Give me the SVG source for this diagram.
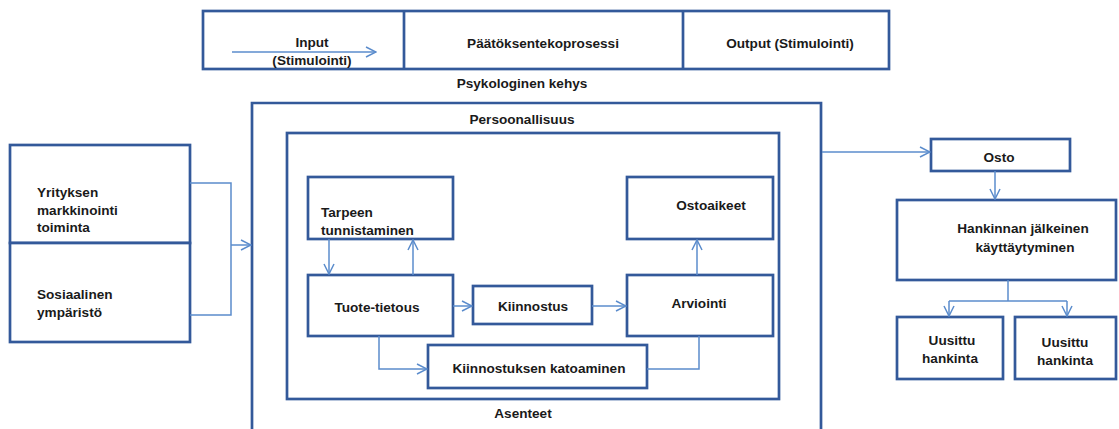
<svg xmlns="http://www.w3.org/2000/svg" width="1119" height="429" viewBox="0 0 1119 429">
<style>
.box{fill:#fff;stroke:#33599a;stroke-width:2.7}
.frame{fill:none;stroke:#33599a;stroke-width:2.7}
.con{fill:none;stroke:#5b8ccc;stroke-width:1.5}
text{font-family:"Liberation Sans",Arial,sans-serif;font-weight:bold;font-size:13.6px;fill:#1a1a1a}
.m{text-anchor:middle}
</style>
<defs>
<marker id="ah" viewBox="0 0 12 12" refX="11" refY="6" markerWidth="12" markerHeight="12" markerUnits="userSpaceOnUse" orient="auto">
<path d="M1,1 L11,6 L1,11" fill="none" stroke="#5b8ccc" stroke-width="1.5"/>
</marker>
</defs>
<rect width="1119" height="429" fill="#fff"/>

<g id="top-frame">
<rect class="box" x="203" y="11" width="686" height="58"/>
<line class="frame" x1="404" y1="11" x2="404" y2="69"/>
<line class="frame" x1="683" y1="11" x2="683" y2="69"/>
<text class="m" x="312" y="47">Input</text>
<text class="m" x="312" y="65">(Stimulointi)</text>
<text class="m" x="543" y="48">Päätöksentekoprosessi</text>
<text class="m" x="790" y="48">Output (Stimulointi)</text>
<text class="m" x="522" y="88">Psykologinen kehys</text>
</g>

<g id="persoonallisuus">
<path class="frame" d="M252,432 L252,103 L821,103 L821,432"/>
<text class="m" x="522" y="124">Persoonallisuus</text>
</g>
<g id="asenteet">
<rect class="frame" x="287" y="133" width="492" height="266"/>
<text class="m" x="523" y="418">Asenteet</text>
</g>

<g id="yritys">
<rect class="box" x="10" y="145" width="180" height="98"/>
<text x="37" y="197">Yrityksen</text>
<text x="37" y="215">markkinointi</text>
<text x="37" y="232">toiminta</text>
</g>
<g id="sosiaalinen">
<rect class="box" x="10" y="243" width="180" height="99"/>
<text x="37" y="299">Sosiaalinen</text>
<text x="37" y="317">ympäristö</text>
</g>

<g id="tarpeen">
<rect class="box" x="308" y="177" width="145" height="62"/>
<text x="321" y="217">Tarpeen</text>
<text x="321" y="235">tunnistaminen</text>
</g>
<g id="ostoaikeet">
<rect class="box" x="627" y="177" width="146" height="62"/>
<text class="m" x="711" y="210">Ostoaikeet</text>
</g>
<g id="tuote">
<rect class="box" x="308" y="275" width="145" height="61"/>
<text class="m" x="377" y="312">Tuote-tietous</text>
</g>
<g id="kiinnostus">
<rect class="box" x="473" y="286" width="119" height="38"/>
<text class="m" x="533" y="311">Kiinnostus</text>
</g>
<g id="arviointi">
<rect class="box" x="627" y="275" width="146" height="61"/>
<text class="m" x="699" y="308">Arviointi</text>
</g>
<g id="katoaminen">
<rect class="box" x="428" y="345" width="219" height="43"/>
<text class="m" x="539" y="373">Kiinnostuksen katoaminen</text>
</g>

<g id="osto">
<rect class="box" x="931" y="139" width="139" height="32"/>
<text class="m" x="999" y="162">Osto</text>
</g>
<g id="hankinnan">
<rect class="box" x="897" y="200" width="219" height="80"/>
<text class="m" x="1023" y="233">Hankinnan jälkeinen</text>
<text class="m" x="1025" y="252">käyttäytyminen</text>
</g>
<g id="uusittu1">
<rect class="box" x="897" y="317" width="106" height="62"/>
<text class="m" x="952" y="345">Uusittu</text>
<text class="m" x="950" y="363">hankinta</text>
</g>
<g id="uusittu2">
<rect class="box" x="1015" y="317" width="101" height="62"/>
<text class="m" x="1065" y="347">Uusittu</text>
<text class="m" x="1065" y="365">hankinta</text>
</g>

<g id="connectors">
<line class="con" x1="232" y1="52" x2="376" y2="52" marker-end="url(#ah)"/>
<path class="con" d="M190,183 L231,183 L231,315 L190,315"/>
<line class="con" x1="231" y1="245" x2="251" y2="245" marker-end="url(#ah)"/>
<line class="con" x1="329" y1="239" x2="329" y2="274" marker-end="url(#ah)"/>
<line class="con" x1="413" y1="275" x2="413" y2="240" marker-end="url(#ah)"/>
<line class="con" x1="453" y1="306" x2="472" y2="306" marker-end="url(#ah)"/>
<line class="con" x1="592" y1="306" x2="626" y2="306" marker-end="url(#ah)"/>
<line class="con" x1="697" y1="275" x2="697" y2="240" marker-end="url(#ah)"/>
<path class="con" d="M379,336 L379,369 L427,369" marker-end="url(#ah)"/>
<path class="con" d="M647,369 L699,369 L699,336"/>
<line class="con" x1="822" y1="152" x2="930" y2="152" marker-end="url(#ah)"/>
<line class="con" x1="995" y1="171" x2="995" y2="199" marker-end="url(#ah)"/>
<line class="con" x1="1008" y1="280" x2="1008" y2="301"/>
<path class="con" d="M949,301 L1067,301"/>
<line class="con" x1="949" y1="301" x2="949" y2="316" marker-end="url(#ah)"/>
<line class="con" x1="1067" y1="301" x2="1067" y2="316" marker-end="url(#ah)"/>
</g>
</svg>
